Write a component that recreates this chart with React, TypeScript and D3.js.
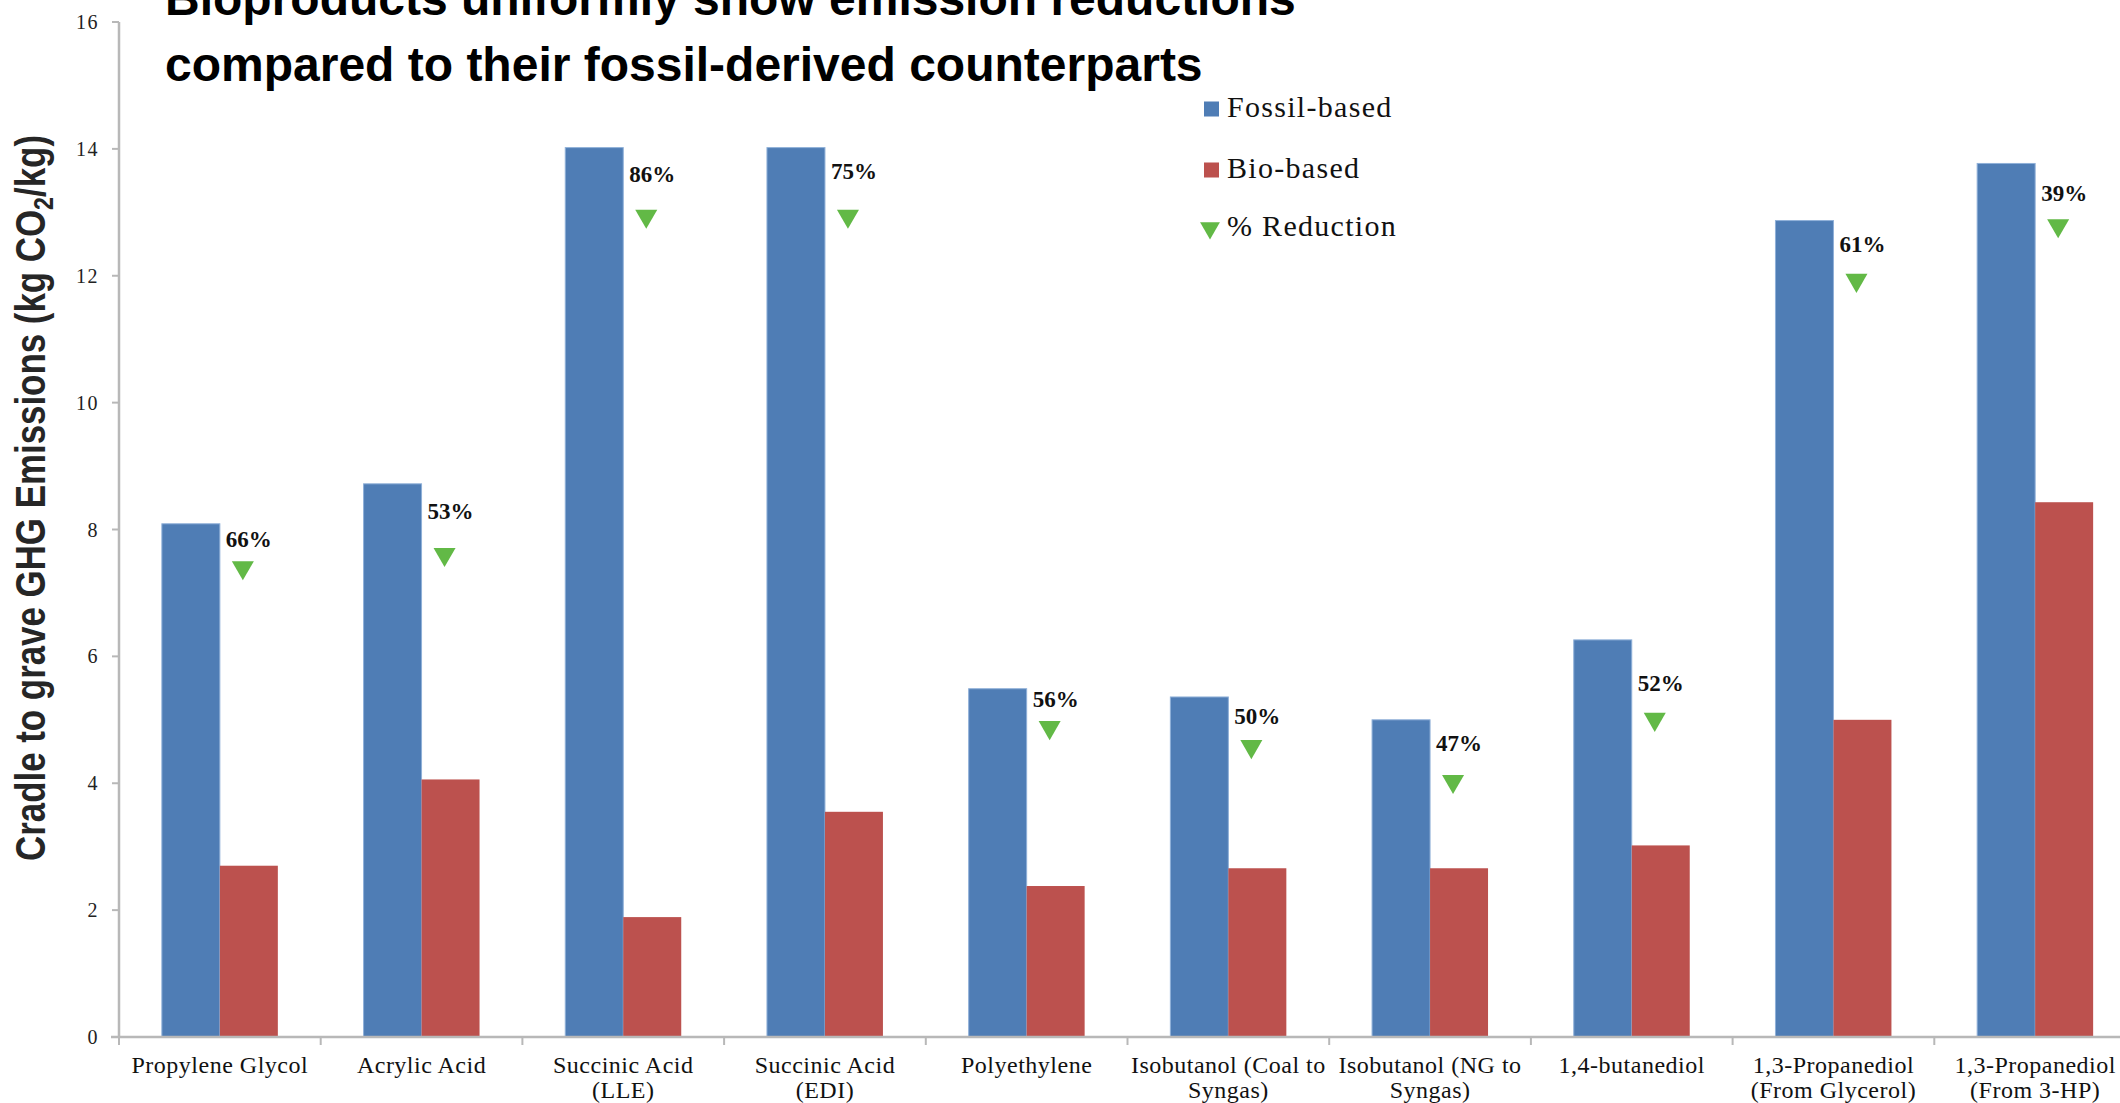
import React, { useEffect } from "react";
import * as d3 from "d3";

const categories = [
  "Propylene Glycol",
  "Acrylic Acid",
  "Succinic Acid (LLE)",
  "Succinic Acid (EDI)",
  "Polyethylene",
  "Isobutanol (Coal to Syngas)",
  "Isobutanol (NG to Syngas)",
  "1,4-butanediol",
  "1,3-Propanediol (From Glycerol)",
  "1,3-Propanediol (From 3-HP)",
];

const categoryLines = [
  ["Propylene Glycol"],
  ["Acrylic Acid"],
  ["Succinic Acid", "(LLE)"],
  ["Succinic Acid", "(EDI)"],
  ["Polyethylene"],
  ["Isobutanol (Coal to", "Syngas)"],
  ["Isobutanol (NG to", "Syngas)"],
  ["1,4-butanediol"],
  ["1,3-Propanediol", "(From Glycerol)"],
  ["1,3-Propanediol", "(From 3-HP)"],
];

const fossilValues = [8.09, 8.72, 14.02, 14.02, 5.49, 5.36, 5.0, 6.26, 12.87, 13.77];
const bioValues = [2.7, 4.06, 1.89, 3.55, 2.38, 2.66, 2.66, 3.02, 5.0, 8.43];
const reductionLabels = ["66%", "53%", "86%", "75%", "56%", "50%", "47%", "52%", "61%", "39%"];
const markerValues = [7.4, 7.61, 12.94, 12.94, 4.88, 4.58, 4.03, 5.01, 11.93, 12.79];
const labelValues = [7.85, 8.28, 13.6, 13.64, 5.32, 5.06, 4.62, 5.57, 12.49, 13.3];
const yTicks = [0, 2, 4, 6, 8, 10, 12, 14, 16];
const legendItems = ["Fossil-based", "Bio-based", "% Reduction"];

const W = 2120;
const H = 1103;
const BLUE = "#4f7db5";
const RED = "#bc514e";
const GREEN = "#62b946";
const AXIS = "#b8b8b8";

export default function App() {
  useEffect(() => {
    document.body.style.margin = "0";
    document.body.style.overflow = "hidden";
  }, []);

  const x0 = 119;
  const band = 201.7;
  const x = d3
    .scaleBand<string>()
    .domain(categories)
    .range([x0, x0 + band * categories.length])
    .padding(0);
  const y = d3.scaleLinear().domain([0, 16]).range([1037, 22]);
  const bw = x.bandwidth();
  const barW = bw * 0.2875;
  const tri = d3.symbol().type(d3.symbolTriangle).size(210)();
  const triLegend = d3.symbol().type(d3.symbolTriangle).size(170)();

  const serif = "'Liberation Serif', 'Times New Roman', serif";
  const sans = "'Liberation Sans', Arial, sans-serif";

  return (
    <svg
      width={W}
      height={H}
      style={{ position: "absolute", left: 0, top: 0, background: "#fff" }}
    >
      <rect x={0} y={0} width={W} height={H} fill="#fff" />

      {/* title */}
      <text x={165} y={15} fontFamily={sans} fontWeight="bold" fontSize={48} fill="#000">
        Bioproducts uniformly show emission reductions
      </text>
      <text x={165} y={81} fontFamily={sans} fontWeight="bold" fontSize={48} fill="#000">
        compared to their fossil-derived counterparts
      </text>

      {/* y axis */}
      <line x1={x0} x2={x0} y1={y(16)} y2={y(0)} stroke={AXIS} strokeWidth={2.5} />
      {yTicks.map((t) => (
        <g key={t}>
          <line x1={x0 - 7} x2={x0} y1={y(t)} y2={y(t)} stroke={AXIS} strokeWidth={2} />
          <text
            x={99}
            y={y(t)}
            textAnchor="end"
            dominantBaseline="central"
            fontFamily={serif}
            fontSize={20}
            letterSpacing={1.5}
            fill="#222"
          >
            {t}
          </text>
        </g>
      ))}

      {/* y title */}
      <text
        transform="translate(45,498) rotate(-90)"
        textAnchor="middle"
        fontFamily={sans}
        fontWeight="bold"
        fontSize={42}
        fill="#262626"
        textLength={726}
        lengthAdjust="spacingAndGlyphs"
      >
        Cradle to grave GHG Emissions (kg CO
        <tspan fontSize={28} dy={8}>2</tspan>
        <tspan dy={-8}>/kg)</tspan>
      </text>

      {/* bars */}
      {categories.map((c, i) => {
        const cx = (x(c) as number) + bw / 2;
        return (
          <g key={c}>
            <rect
              x={cx - barW}
              y={y(fossilValues[i])}
              width={barW}
              height={y(0) - y(fossilValues[i])}
              fill={BLUE}
              stroke="#8fb0d8"
              strokeWidth={1}
            />
            <rect
              x={cx}
              y={y(bioValues[i])}
              width={barW}
              height={y(0) - y(bioValues[i])}
              fill={RED}
            />
          </g>
        );
      })}

      {/* x axis */}
      <line x1={x0 - 8} x2={W} y1={y(0)} y2={y(0)} stroke={AXIS} strokeWidth={2.5} />
      {categories.map((c, i) => (
        <line
          key={"t" + i}
          x1={x(c) as number}
          x2={x(c) as number}
          y1={y(0)}
          y2={y(0) + 8}
          stroke={AXIS}
          strokeWidth={2}
        />
      ))}
      {categories.map((c, i) => {
        const cx = (x(c) as number) + bw / 2;
        return (
          <text
            key={"l" + i}
            textAnchor="middle"
            fontFamily={serif}
            fontSize={24}
            letterSpacing={0.5}
            fill="#111"
          >
            {categoryLines[i].map((ln, j) => (
              <tspan key={j} x={cx} y={1073 + j * 25}>
                {ln}
              </tspan>
            ))}
          </text>
        );
      })}

      {/* reduction markers and labels */}
      {categories.map((c, i) => {
        const cx = (x(c) as number) + bw / 2;
        return (
          <g key={"m" + i}>
            <path
              d={tri as string}
              transform={`translate(${cx + 23},${y(markerValues[i])}) rotate(180)`}
              fill={GREEN}
            />
            <text
              x={cx + 29}
              y={y(labelValues[i])}
              textAnchor="middle"
              dominantBaseline="central"
              fontFamily={serif}
              fontWeight="bold"
              fontSize={23}
              fill="#111"
            >
              {reductionLabels[i]}
            </text>
          </g>
        );
      })}

      {/* legend */}
      {legendItems.map((name, i) => {
        const cy = [109, 170, 228][i];
        return (
          <g key={name}>
            {i < 2 ? (
              <rect x={1204} y={cy - 7.5} width={15} height={15} fill={i === 0 ? BLUE : RED} />
            ) : (
              <path d={triLegend as string} transform={`translate(1210,${cy}) rotate(180)`} fill={GREEN} />
            )}
            <text
              x={1227}
              y={cy + 8}
              fontFamily={serif}
              fontSize={30}
              letterSpacing={1.3}
              fill="#111"
            >
              {name}
            </text>
          </g>
        );
      })}
    </svg>
  );
}
